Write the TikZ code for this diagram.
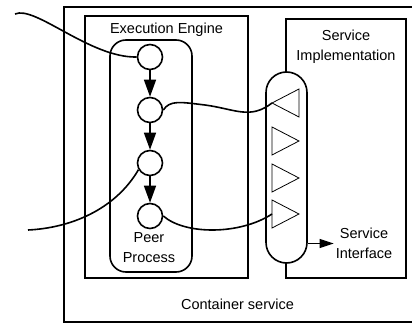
\documentclass[tikz,border=0pt]{standalone}
\usepackage{fontspec}
\setmainfont{Liberation Sans}
\usetikzlibrary{arrows.meta}

\begin{document}
\begin{tikzpicture}[
        x=1pt, y=-1pt,
        box/.style={rectangle, draw, line width=1.6pt, inner sep=0pt},
        pill/.style={rectangle, draw, line width=1.6pt, fill=white, inner sep=0pt},
        peer/.style={circle, draw, line width=1.6pt, fill=white, minimum size=25pt, inner sep=0pt},
        lbl/.style={align=center, font=\fontsize{14.5}{20}\selectfont, inner sep=2pt},
        flow/.style={-{Triangle[length=17pt,width=12pt]}, line width=1.6pt},
        wire/.style={line width=1.6pt},
        port/.style={line width=0.8pt}
    ]
        \useasboundingbox (0,0) rectangle (412,323);

        % Container service
        \node[box, minimum width=350pt, minimum height=315pt] (container) at (239,164.5) {};
        \node[lbl, anchor=base] (containerlabel) at (237.5,309) {Container service};

        % Execution engine
        \node[box, minimum width=163pt, minimum height=262pt] (engine) at (166.5,147) {};
        \node[lbl, anchor=base] (enginelabel) at (166.5,34) {Execution Engine};
        \node[pill, rounded corners=16pt, minimum width=82pt, minimum height=232pt] (process) at (151,156) {};

        % Service implementation
        \node[box, minimum width=120pt, minimum height=259pt] (impl) at (346,148.5) {};
        \node[lbl] (impllabel) at (346,47) {Service\\Implementation};
        \node[pill, rounded corners=20.5pt, minimum width=41pt, minimum height=191pt] (iface) at (286.5,167.5) {};

        % Ports
        \coordinate (s1) at (272,103);
        \coordinate (s2) at (272,141);
        \coordinate (s3) at (272,178);
        \coordinate (s4) at (272,214);
        \draw[port] (s1) -- ++(27,-14) -- ++(0,28) -- cycle;
        \draw[port] (s2) ++(0,-14) -- ++(27,14) -- ++(-27,14) -- cycle;
        \draw[port] (s3) ++(0,-14) -- ++(27,14) -- ++(-27,14) -- cycle;
        \draw[port] (s4) ++(0,-14) -- ++(27,14) -- ++(-27,14) -- cycle;

        % Peer process
        \node[peer] (c1) at (150,57) {};
        \node[peer] (c2) at (150,110) {};
        \node[peer] (c3) at (150,163) {};
        \node[peer] (c4) at (150,216) {};
        \node[lbl] (peerlabel) at (149,247.3) {Peer\\Process};

        \draw[flow] (c1) -- (c2);
        \draw[flow] (c2) -- (c3);
        \draw[flow] (c3) -- (c4);

        % Service interface
        \node[lbl] (ifacelabel) at (364,243.5) {Service\\Interface};
        \draw[-{Triangle[length=14pt,width=9pt]}, line width=1.2pt] (ifacelabel.west -| iface.east) -- (ifacelabel.west);

        % Wires
        \coordinate (in1) at (15,14);
        \coordinate (in3) at (28,230);
        \draw[wire] (in1) .. controls (35,5) and (90,58) .. (c1.west);
        \draw[wire] (c2.east) .. controls (170,100) and (180,102) .. (205,105)
            .. controls (235,109) and (250,120) .. (s1);
        \draw[wire] (in3) .. controls (70,228) and (115,210) .. (c3.210);
        \draw[wire] (c4.east) .. controls (185,235) and (240,235) .. (s4);
    \end{tikzpicture}
\end{document}
